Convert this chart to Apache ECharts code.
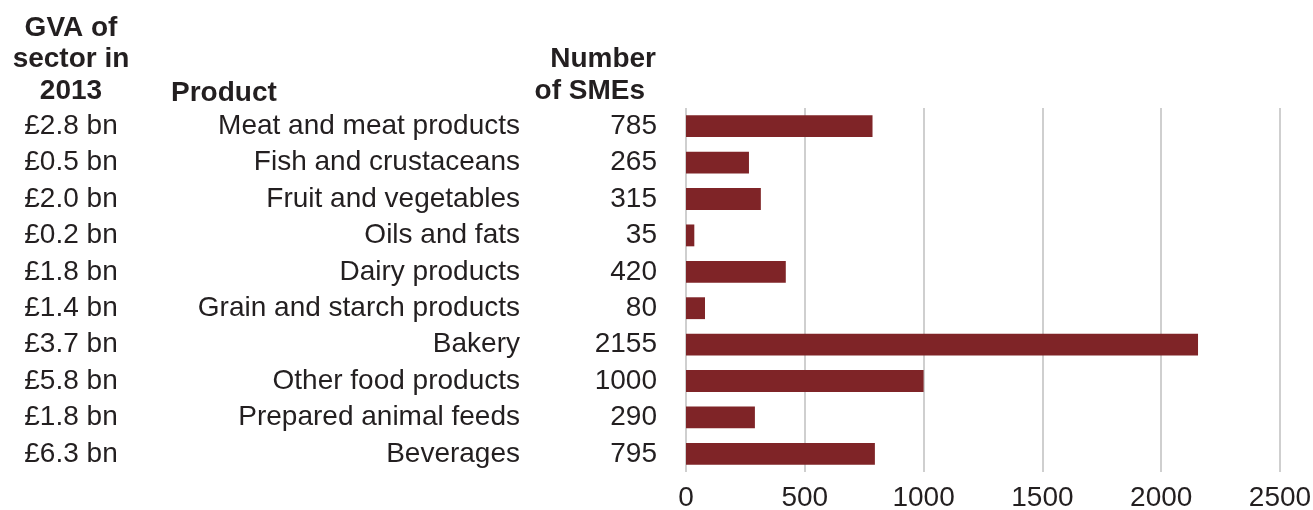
<!DOCTYPE html>
<html>
<head>
<meta charset="utf-8">
<script src="https://cdn.jsdelivr.net/npm/echarts@6/dist/echarts.min.js"></script>
<style>
  html, body { margin: 0; padding: 0; background: #fff; }
  #chart { width: 1313px; height: 510px; }
</style>
</head>
<body>
<div id="chart"></div>
<script>
// data
var products = ["Meat and meat products", "Fish and crustaceans", "Fruit and vegetables",
  "Oils and fats", "Dairy products", "Grain and starch products", "Bakery",
  "Other food products", "Prepared animal feeds", "Beverages"];
var gva = ["£2.8 bn", "£0.5 bn", "£2.0 bn", "£0.2 bn", "£1.8 bn", "£1.4 bn",
  "£3.7 bn", "£5.8 bn", "£1.8 bn", "£6.3 bn"];
var smes = [785, 265, 315, 35, 420, 80, 2155, 1000, 290, 795];
var xTicks = [0, 500, 1000, 1500, 2000, 2500];

var FONT = "'Liberation Sans', Arial, sans-serif";
var TXT = "#231f20";

var chart = echarts.init(document.getElementById("chart"));

function labelAxis(data, margin, align) {
  return {
    type: "category",
    position: "left",
    inverse: true,
    data: data,
    axisLine: { show: false },
    axisTick: { show: false },
    splitLine: { show: false },
    axisLabel: {
      interval: 0,
      margin: margin,
      align: align,
      color: TXT,
      fontSize: 28,
      fontFamily: FONT
    }
  };
}

// bold header text at a fixed spot
function header(text, x, y, align) {
  return {
    type: "text",
    x: x, y: y,
    style: {
      text: text,
      textAlign: align,
      textVerticalAlign: "middle",
      fill: TXT,
      fontSize: 28,
      fontWeight: "bold",
      fontFamily: FONT
    }
  };
}

chart.setOption({
  animation: false,
  grid: { left: 686, right: 33, top: 108, bottom: 38, outerBoundsMode: "none" },
  xAxis: {
    type: "value",
    min: xTicks[0],
    max: xTicks[xTicks.length - 1],
    interval: 500,
    axisLine: { show: false },
    axisTick: { show: false },
    splitLine: { lineStyle: { color: "#cfcfcf", width: 2 } },
    axisLabel: {
      margin: 12,
      color: TXT,
      fontSize: 28,
      fontFamily: FONT,
      formatter: function (v) { return String(v); }
    }
  },
  yAxis: [
    labelAxis(products, 166, "right"),
    labelAxis(smes.map(String), 29, "right"),
    labelAxis(gva, 615, "center")
  ],
  graphic: [
    header("GVA of", 71, 28, "center"),
    header("sector in", 71, 59, "center"),
    header("2013", 71, 91, "center"),
    header("Product", 171, 93, "left"),
    header("Number", 656, 59, "right"),
    header("of SMEs", 645, 91, "right")
  ],
  series: [{
    type: "bar",
    yAxisIndex: 0,
    data: smes,
    barCategoryGap: "40%",
    itemStyle: { color: "#7f2427" }
  }]
});
</script>
</body>
</html>
